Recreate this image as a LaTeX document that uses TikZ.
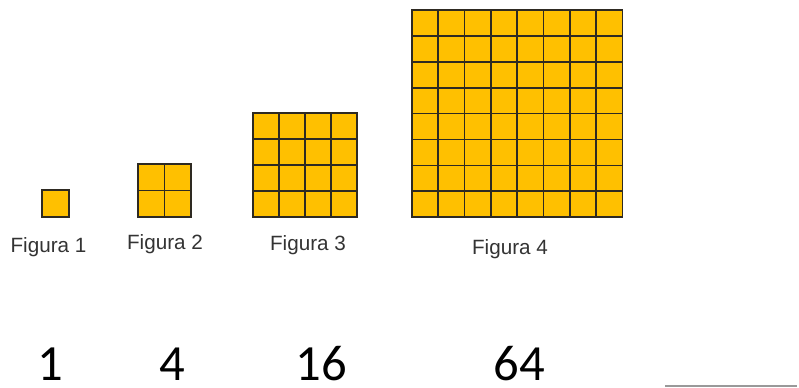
\documentclass[tikz,border=0pt]{standalone}
\usepackage{fontspec}
\setmainfont{Liberation Sans}
\newfontfamily\numfont{Carlito}
\usetikzlibrary{positioning}
\definecolor{CellGold}{HTML}{FFC000}
\definecolor{GridInk}{HTML}{2E2A22}
\definecolor{LabelInk}{HTML}{333333}

\begin{document}
\begin{tikzpicture}[x=0.75pt,y=-0.75pt,
    cell/.style={fill=CellGold,draw=GridInk,line width=1.3pt},
    figlabel/.style={anchor=base,text=LabelInk,font=\fontsize{15.5}{18}\selectfont},
    count/.style={anchor=base,inner sep=0pt,font=\numfont\fontsize{38}{44}\selectfont}]
  \useasboundingbox (0,0) rectangle (799,387);
  % the four squares, n x n cells each (cell width \w, height \h)
  \foreach \n/\x/\y/\w/\h in {1/42/190/27/27, 2/138/164/26.5/26.5, 4/253/113/26/26, 8/412/10/26.3/25.9} {
    \foreach \i in {1,...,\n}
      \foreach \j in {1,...,\n}
        \draw[cell] ({\x+\w*(\i-1)},{\y+\h*(\j-1)}) rectangle ++(\w,\h);
  }
  \node[figlabel] (fig1) at (48.5,252) {Figura 1};
  \node[figlabel] (fig2) at (165,249) {Figura 2};
  \node[figlabel] (fig3) at (308,250) {Figura 3};
  \node[figlabel] (fig4) at (510,254) {Figura 4};
  \node[count] (num1) at (50,380) {1};
  \node[count] (num4) at (172,380) {4};
  \node[count] (num16) at (321,380) {16};
  \node[count] (num64) at (519,380) {64};
  \draw[black!40,line width=0.9pt] (665,386) -- (797,386);
\end{tikzpicture}
\end{document}
